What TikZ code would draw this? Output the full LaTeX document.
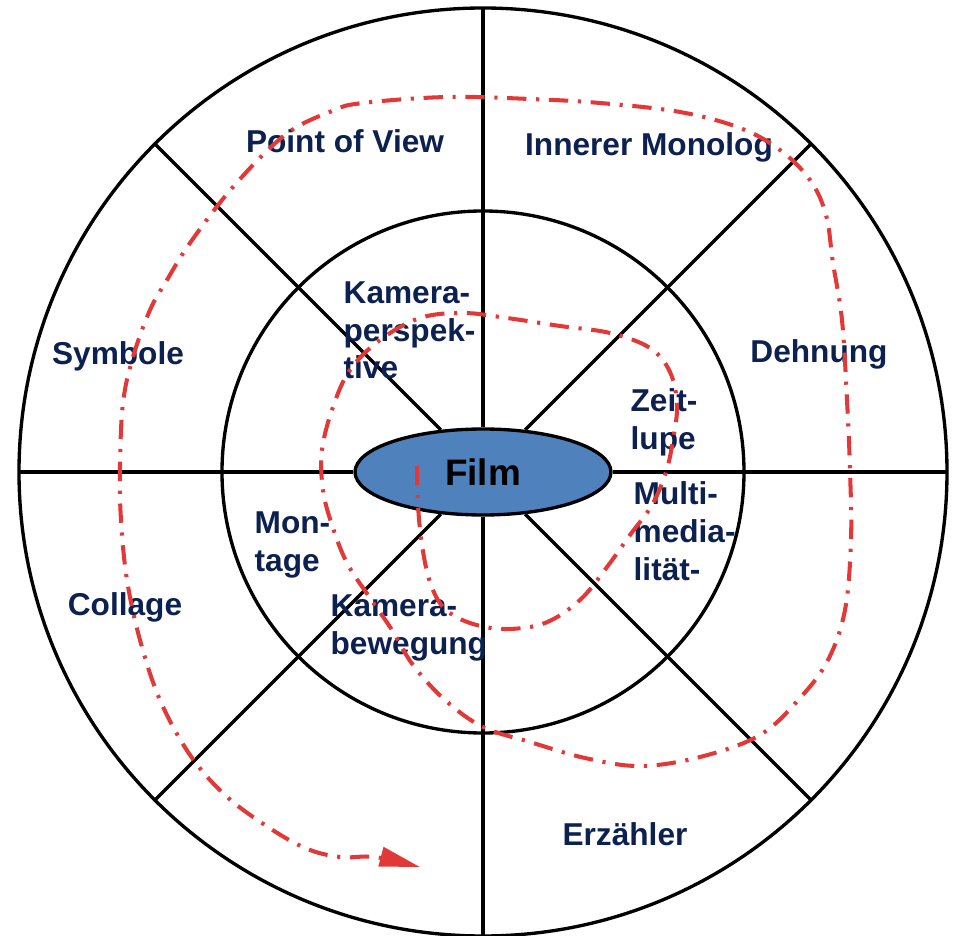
\documentclass[tikz,border=0pt]{standalone}
\usepackage{fontspec}
\setmainfont{Liberation Sans}
\usetikzlibrary{shapes.geometric,arrows.meta}
\definecolor{filmblue}{RGB}{79,129,189}
\definecolor{labelnavy}{RGB}{12,33,80}
\definecolor{pathred}{RGB}{226,56,56}

\begin{document}
\begin{tikzpicture}[x=0.02cm,y=0.02cm,line width=1.9pt,
  lbl/.style={text=labelnavy,font=\fontsize{18}{21.5}\selectfont\bfseries,inner sep=0pt},
  lbl left/.style={lbl,align=left,anchor=north west},
  spiral/.style={pathred,line width=2.3pt,dash pattern=on 11pt off 5.5pt on 1.8pt off 5.5pt}]
 \useasboundingbox (-483,-464) rectangle (470,472);
 \node [ellipse,draw,fill=filmblue,minimum width=5.12cm,minimum height=1.72cm,inner sep=0pt,
   font=\fontsize{21}{24}\selectfont\bfseries] (film) at (0,0) {Film};
 \draw (0,0) circle (464);
 \draw (0,0) circle (261);
 \foreach \a in {0,45,...,315}
  \coordinate (rim\a) at (\a:464);
 \foreach \a in {0,45,...,315}
  \draw (film) -- (rim\a);
 \node [lbl,anchor=base] (pov) at (-138,319) {Point of View};
 \node [lbl,anchor=base] (monolog) at (166,316) {Innerer Monolog};
 \node [lbl,anchor=base] (symbole) at (-365,107) {Symbole};
 \node [lbl,anchor=base] (dehnung) at (336,109) {Dehnung};
 \node [lbl,anchor=base] (collage) at (-358,-143) {Collage};
 \node [lbl,anchor=base] (erzaehler) at (142,-373) {Erzähler};
 \node [lbl left] (perspektive) at (-141,192) {Kamera-\\perspek-\\tive};
 \node [lbl left] (zeitlupe) at (146,85) {Zeit-\\lupe};
 \node [lbl left] (multimedia) at (149,-8) {Multi-\\media-\\lität-};
 \node [lbl left] (montage) at (-230,-38) {Mon-\\tage};
 \node [lbl left] (bewegung) at (-154,-121) {Kamera-\\bewegung};
 \begin{scope}[shift={(-483,472)},yscale=-1]
  \draw [spiral,-{Triangle[length=23pt,width=11pt]}] plot [smooth,tension=0.6] coordinates {
   (417,466) (418,505) (422,545) (430,582) (444,608) (470,623) (505,629) (545,623)
   (580,600) (607,567) (630,535) (652,505) (666,472) (673,440) (677,405) (670,372)
   (650,348) (610,333) (560,326) (507,318) (463,313) (420,318) (380,340) (350,370)
   (333,407) (322,450) (323,490) (332,525) (347,563) (370,598) (392,630) (413,665)
   (445,700) (483,727) (530,742) (585,758) (640,766) (700,757) (760,735) (800,698)
   (828,660) (845,610) (851,540) (850,470) (847,400) (842,320) (833,263) (826,215)
   (810,180) (780,150) (740,128) (680,112) (600,103) (530,99) (447,97) (363,103)
   (332,111) (285,135) (233,187) (190,243) (167,280) (150,310) (133,357) (123,403)
   (120,467) (121,520) (127,580) (140,640) (160,700) (190,755) (225,795) (265,825)
   (305,848) (340,857) (375,857) (420,867)};
 \end{scope}
\end{tikzpicture}
\end{document}
